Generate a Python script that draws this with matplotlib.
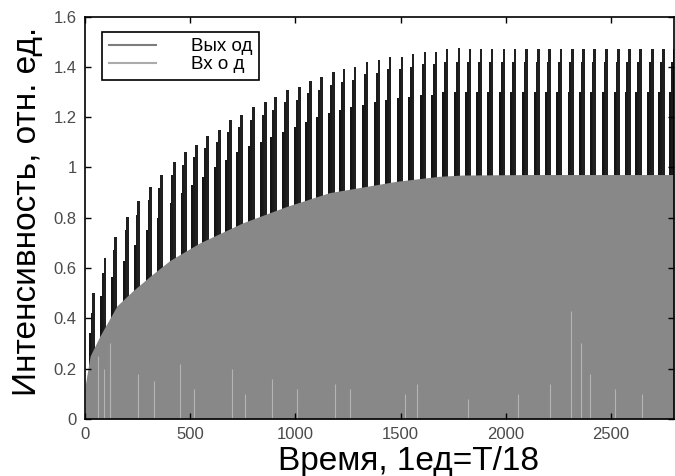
import matplotlib
matplotlib.use("Agg")
import matplotlib.pyplot as plt
from matplotlib.lines import Line2D
from matplotlib.ticker import FuncFormatter

plt.rcParams['font.family'] = ['Liberation Sans', 'DejaVu Sans']

# output spikes: position (time units) and three step heights of each burst
peak_x = [47, 100, 152, 209, 261, 318, 370, 432, 484, 536,
          588, 645, 697, 750, 806, 863, 911, 968, 1025, 1077,
          1129, 1186, 1238, 1290, 1347, 1404, 1456, 1513, 1565, 1622,
          1675, 1727, 1784, 1836, 1888, 1940, 1997, 2049, 2106, 2163,
          2215, 2268, 2324, 2377, 2429, 2486, 2543, 2595, 2647, 2704,
          2756, 2808]
peak_top = [0.50, 0.64, 0.725, 0.805, 0.865, 0.924, 0.97, 1.02, 1.06, 1.09,
            1.124, 1.15, 1.19, 1.21, 1.24, 1.26, 1.28, 1.31, 1.32, 1.345,
            1.36, 1.378, 1.39, 1.40, 1.418, 1.426, 1.438, 1.44, 1.45, 1.46,
            1.46, 1.47, 1.474, 1.47, 1.47, 1.47, 1.47, 1.47, 1.47, 1.47,
            1.47, 1.47, 1.47, 1.47, 1.47, 1.47, 1.47, 1.47, 1.47, 1.47,
            1.47, 1.47]
peak_mid = [0.42, 0.58, 0.67, 0.75, 0.81, 0.87, 0.92, 0.97, 1.01, 1.04,
            1.076, 1.10, 1.14, 1.16, 1.19, 1.21, 1.23, 1.26, 1.27, 1.295,
            1.31, 1.33, 1.34, 1.35, 1.37, 1.375, 1.39, 1.39, 1.40, 1.41,
            1.41, 1.42, 1.42, 1.42, 1.42, 1.42, 1.42, 1.42, 1.42, 1.42,
            1.42, 1.42, 1.42, 1.42, 1.42, 1.42, 1.42, 1.42, 1.42, 1.42,
            1.42, 1.42]
peak_low = [0.34, 0.49, 0.565, 0.63, 0.69, 0.75, 0.80, 0.86, 0.90, 0.93,
            0.964, 1.0, 1.03, 1.06, 1.084, 1.10, 1.12, 1.143, 1.16, 1.18,
            1.20, 1.215, 1.23, 1.24, 1.25, 1.26, 1.27, 1.275, 1.28, 1.29,
            1.29, 1.30, 1.30, 1.30, 1.30, 1.30, 1.30, 1.30, 1.30, 1.30,
            1.30, 1.30, 1.30, 1.30, 1.30, 1.30, 1.30, 1.30, 1.30, 1.30,
            1.30, 1.30]

# input envelope (upper edge of the grey band)
in_x = [0, 24, 71, 152, 228, 313, 403, 545, 750, 958,
        1162, 1480, 1684, 1793, 2111, 2800]
in_top = [0.13, 0.25, 0.33, 0.45, 0.51, 0.57, 0.63, 0.70, 0.78, 0.845,
          0.90, 0.945, 0.965, 0.97, 0.972, 0.972]

# lighter streaks inside the grey band
streak_x = [60, 90, 120, 250, 330, 450, 520, 700, 760, 890,
            1010, 1190, 1260, 1520, 1580, 1820, 2060, 2210, 2310, 2360,
            2400, 2520, 2650]
streak_top = [0.25, 0.20, 0.30, 0.18, 0.15, 0.22, 0.12, 0.20, 0.10, 0.16,
              0.12, 0.14, 0.12, 0.10, 0.14, 0.08, 0.10, 0.14, 0.43, 0.30,
              0.18, 0.12, 0.10]

fig = plt.figure(figsize=(6.75, 4.76), dpi=100)
ax = fig.add_axes([0.126, 0.12, 0.8725, 0.845])

ax.bar(peak_x, peak_low, width=-30, align='edge', color='#141414', linewidth=0)
ax.bar(peak_x, peak_mid, width=-21, align='edge', color='#1a1a1a', linewidth=0)
ax.bar(peak_x, peak_top, width=-12, align='edge', color='#202020', linewidth=0)

ax.fill_between(in_x, 0, in_top, color='#888888', linewidth=0)
ax.vlines(streak_x, 0, streak_top, color='#b4b4b4', linewidth=0.8)

ax.set_xlim(0, 2800)
ax.set_ylim(0, 1.6)
ax.set_xticks([0, 500, 1000, 1500, 2000, 2500])
ax.set_yticks([0, 0.2, 0.4, 0.6, 0.8, 1.0, 1.2, 1.4, 1.6])
ax.yaxis.set_major_formatter(FuncFormatter(lambda v, p: '%g' % v))
ax.tick_params(direction='in', top=True, right=True, length=4, width=1,
               labelsize=12, labelcolor='#4a4a4a', pad=6)
for s in ax.spines.values():
    s.set_linewidth(1.2)

ax.set_xlabel('Время, 1ед=T/18', fontsize=24)
ax.xaxis.set_label_coords(0.55, -0.068)
ax.set_ylabel('Интенсивность, отн. ед.', fontsize=24)
ax.yaxis.set_label_coords(-0.072, 0.515)

handles = [Line2D([], [], color='#7c7c7c', lw=1.5),
           Line2D([], [], color='#ababab', lw=1.5)]
leg = ax.legend(handles, ['Вых од', 'Вх о д'], loc='upper left',
                bbox_to_anchor=(0.029, 0.963), borderaxespad=0, fontsize=13.5,
                fancybox=False, edgecolor='black', framealpha=1,
                handlelength=2.5, handletextpad=1.9, labelspacing=0.05,
                borderpad=0.35)
leg.get_frame().set_linewidth(1.2)

fig.savefig('out.png', dpi=100)
